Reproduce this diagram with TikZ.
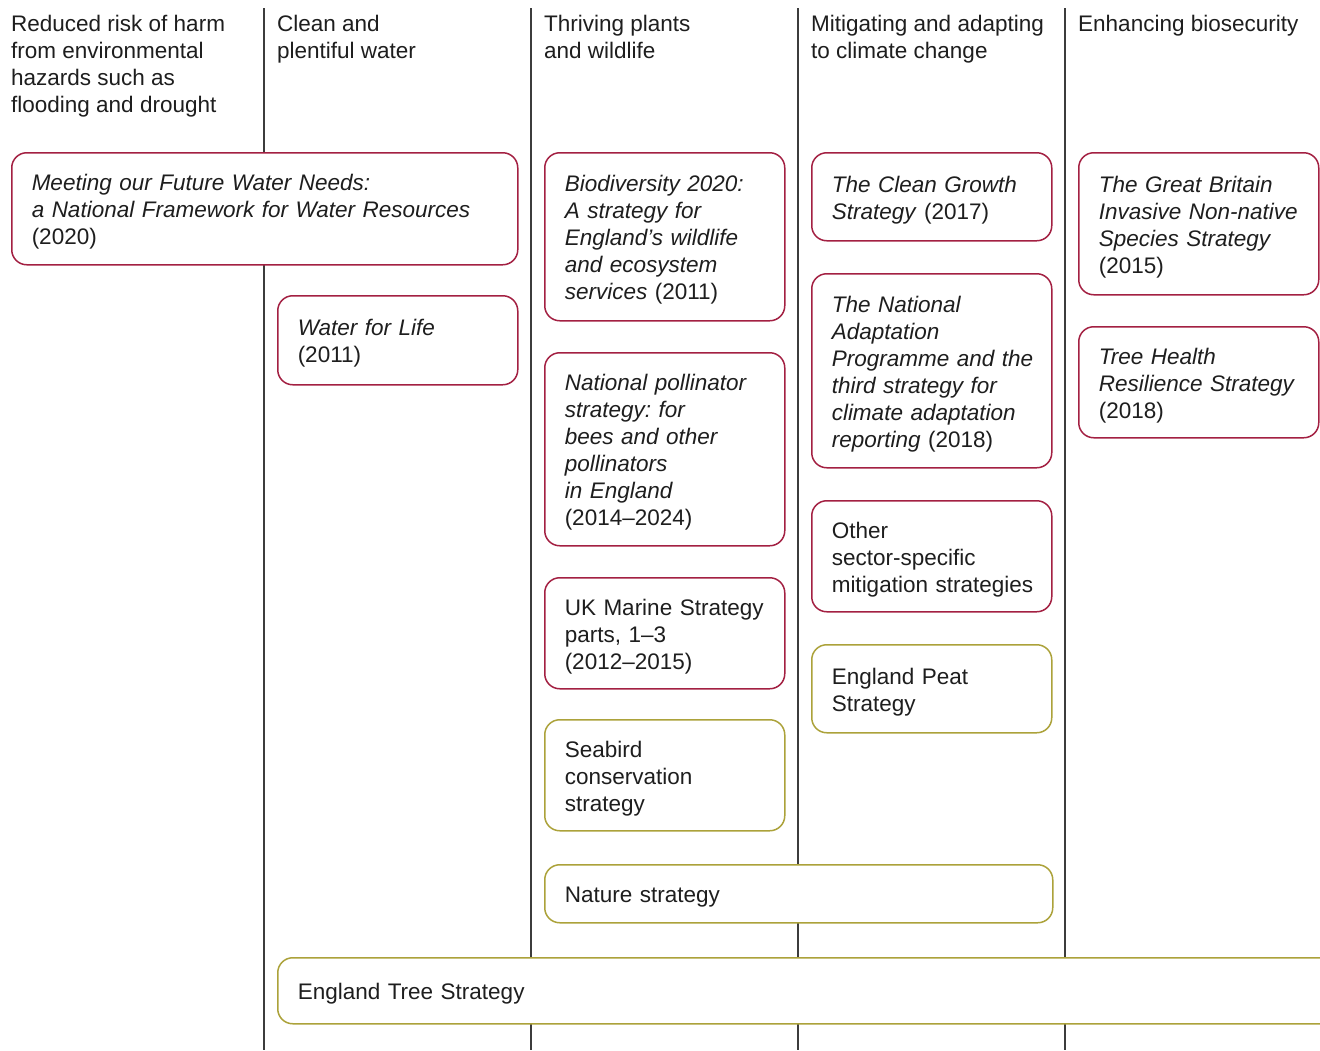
\documentclass[tikz,border=0pt]{standalone}
\usepackage{fontspec}
\setmainfont{Liberation Sans}
\usepackage{xcolor}
\usepackage{tikz}
\frenchspacing
\definecolor{cText}{RGB}{30,30,30}
\definecolor{cDiv} {RGB}{60,60,60}
\definecolor{cCur} {RGB}{163,32,66}
\definecolor{cPlan}{RGB}{172,162,58}
\newcommand{\docfont}{\fontsize{22.5}{27}\selectfont}
\tikzset{
  doc/.style={draw,rounded corners=15pt,line width=1.5pt,fill=white,anchor=north west,
              inner xsep=20pt,inner ysep=2pt,text width=200pt,font=\docfont,text=cText,
              execute at begin node={\parindent=0pt\rightskip=-20pt plus 1fil\rule{0pt}{23pt}}},
  cur/.style={doc,draw=cCur},
  plan/.style={doc,draw=cPlan},
  head/.style={anchor=north west,align=left,inner sep=0pt,font=\docfont,text=cText},
  col/.style={cDiv,line width=1.2pt},
}

\begin{document}
\begin{tikzpicture}[x=1pt,y=-1pt]
  \clip (0,0) rectangle (1320,1050);
  \fill[white] (0,0) rectangle (1320,1050);
  % column dividers
  \foreach \cx in {264,531,798,1065}
    \draw[col] (\cx,8) -- (\cx,1050);
  % column headings
  \node[head] (hHarm)  at (11,15)   {Reduced risk of harm\\from environmental\\hazards such as\\flooding and drought};
  \node[head] (hWater) at (277,15)  {Clean and\\plentiful water};
  \node[head] (hWild)  at (544,15)  {Thriving plants\\and wildlife};
  \node[head] (hClim)  at (811,15)  {Mitigating and adapting\\to climate change};
  \node[head] (hBio)   at (1078,15) {Enhancing biosecurity};
  % published strategies
  \node[cur,text width=466pt,minimum height=112pt] (needs) at (11,152)
    {\textit{Meeting our Future Water Needs:}\\\textit{a National Framework for Water Resources}\\(2020)};
  \node[cur,minimum height=89pt] (life) at (277,295) {\textit{Water for Life}\\(2011)};
  \node[cur,minimum height=168pt] (biodiv) at (544,152)
    {\textit{Biodiversity 2020:}\\\textit{A strategy for}\\\textit{England’s wildlife}\\\textit{and ecosystem}\\\textit{services} (2011)};
  \node[cur,minimum height=193pt] (pollin) at (544,352)
    {\textit{National pollinator}\\\textit{strategy: for}\\\textit{bees and other}\\\textit{pollinators}\\\textit{in England}\\(2014–2024)};
  \node[cur,minimum height=111pt] (marine) at (544,577) {UK Marine Strategy\\parts, 1–3\\(2012–2015)};
  \node[cur,minimum height=88pt] (growth) at (811,152) {\textit{The Clean Growth}\\\textit{Strategy} (2017)};
  \node[cur,minimum height=194pt] (adapt) at (811,273)
    {\textit{The National}\\\textit{Adaptation}\\\textit{Programme and the}\\\textit{third strategy for}\\\textit{climate adaptation}\\\textit{reporting} (2018)};
  \node[cur,minimum height=111pt] (sector) at (811,500) {Other\\sector-specific\\mitigation strategies};
  \node[cur,minimum height=142pt] (invas) at (1078,152)
    {\textit{The Great Britain}\\\textit{Invasive Non-native}\\\textit{Species Strategy}\\(2015)};
  \node[cur,minimum height=111pt] (health) at (1078,326) {\textit{Tree Health}\\\textit{Resilience Strategy}\\(2018)};
  % strategies in preparation
  \node[plan,minimum height=111pt] (seabird) at (544,719) {Seabird\\conservation\\strategy};
  \node[plan,minimum height=88pt] (peat) at (811,644) {England Peat\\Strategy};
  \node[plan,text width=468pt,minimum height=58pt] (nature) at (544,864) {Nature strategy};
  \node[plan,text width=1040pt,minimum height=66pt] (trees) at (277,957) {England Tree Strategy};
\end{tikzpicture}
\end{document}
